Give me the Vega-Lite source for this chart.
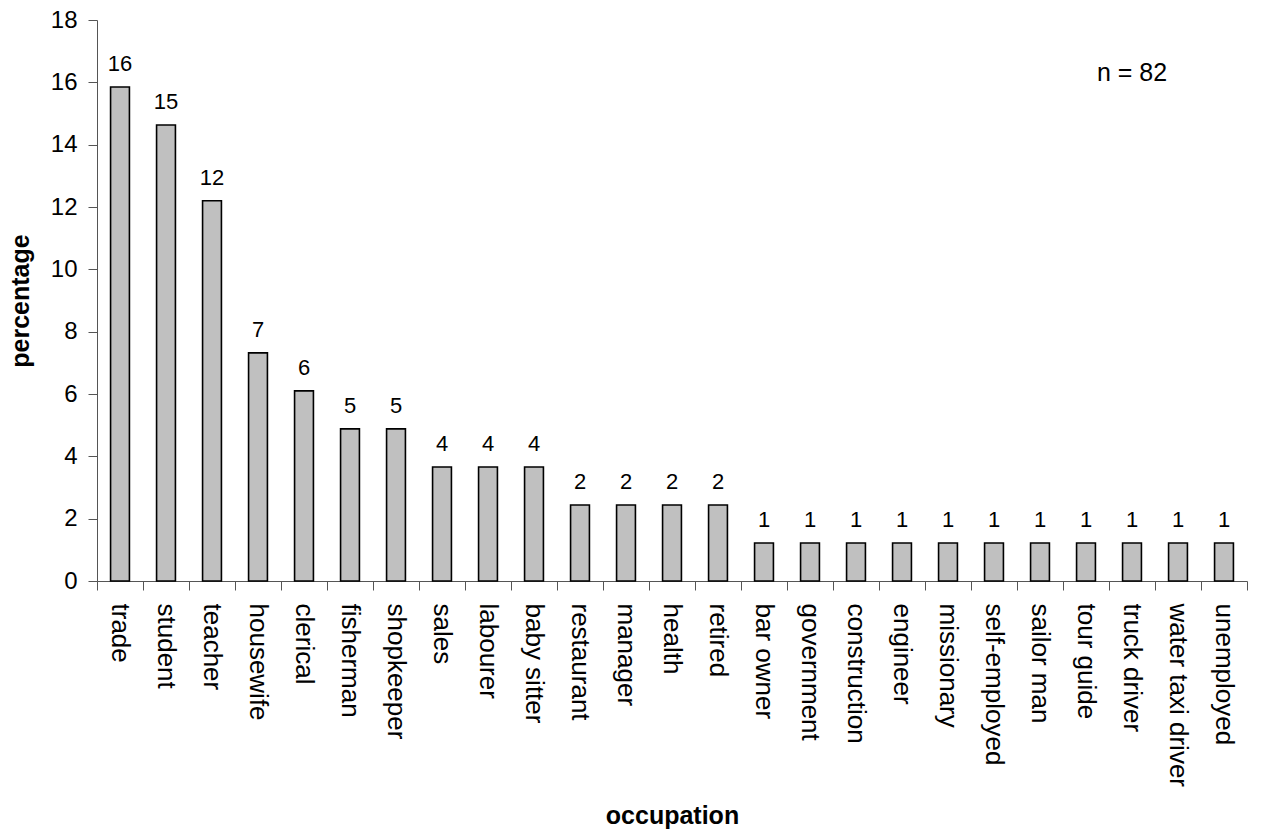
{
  "$schema": "https://vega.github.io/schema/vega-lite/v6.json",
  "width": 1150,
  "height": 561,
  "autosize": {"type": "none"},
  "padding": {"left": 97, "top": 20, "right": 17, "bottom": 258},
  "background": "white",
  "config": {
    "view": {"stroke": null},
    "font": "Liberation Sans",
    "axis": {"labelFont": "Liberation Sans", "titleFont": "Liberation Sans", "labelColor": "black", "titleColor": "black", "domainColor": "#555555", "tickColor": "#555555", "grid": false}
  },
  "data": {
    "values": [
      {"occupation": "trade", "pct": 15.85},
      {"occupation": "student", "pct": 14.63},
      {"occupation": "teacher", "pct": 12.20},
      {"occupation": "housewife", "pct": 7.32},
      {"occupation": "clerical", "pct": 6.10},
      {"occupation": "fisherman", "pct": 4.88},
      {"occupation": "shopkeeper", "pct": 4.88},
      {"occupation": "sales", "pct": 3.66},
      {"occupation": "labourer", "pct": 3.66},
      {"occupation": "baby sitter", "pct": 3.66},
      {"occupation": "restaurant", "pct": 2.44},
      {"occupation": "manager", "pct": 2.44},
      {"occupation": "health", "pct": 2.44},
      {"occupation": "retired", "pct": 2.44},
      {"occupation": "bar owner", "pct": 1.22},
      {"occupation": "government", "pct": 1.22},
      {"occupation": "construction", "pct": 1.22},
      {"occupation": "engineer", "pct": 1.22},
      {"occupation": "missionary", "pct": 1.22},
      {"occupation": "self-employed", "pct": 1.22},
      {"occupation": "sailor man", "pct": 1.22},
      {"occupation": "tour guide", "pct": 1.22},
      {"occupation": "truck driver", "pct": 1.22},
      {"occupation": "water taxi driver", "pct": 1.22},
      {"occupation": "unemployed", "pct": 1.22}
    ]
  },
  "encoding": {
    "x": {
      "field": "occupation", "type": "nominal", "sort": null,
      "scale": {"paddingInner": 0, "paddingOuter": 0},
      "axis": {
        "title": "occupation", "titleFontSize": 25, "titleFontWeight": "bold", "titlePadding": 22,
        "labelAngle": 90, "labelFontSize": 26, "labelPadding": 13, "labelBaseline": "middle", "labelAlign": "left",
        "tickSize": 9, "bandPosition": 1, "tickExtra": true, "labelLimit": 300
      }
    },
    "y": {
      "field": "pct", "type": "quantitative",
      "scale": {"domain": [0, 18], "nice": false},
      "axis": {
        "title": "percentage", "titleFontSize": 25, "titleFontWeight": "bold", "titlePadding": 17,
        "values": [0, 2, 4, 6, 8, 10, 12, 14, 16, 18], "labelFontSize": 24, "labelPadding": 11, "tickSize": 9
      }
    }
  },
  "layer": [
    {
      "mark": {"type": "bar", "fill": "#c0c0c0", "stroke": "black", "strokeWidth": 1.6, "width": {"band": 0.41}}
    },
    {
      "mark": {"type": "text", "fontSize": 22, "baseline": "alphabetic", "dy": -16, "color": "black"},
      "encoding": {"text": {"field": "pct", "type": "quantitative", "format": ".0f"}}
    },
    {
      "data": {"values": [{"occupation": "truck driver", "pct": 16.3, "note": "n = 82"}]},
      "mark": {"type": "text", "fontSize": 25, "baseline": "middle", "color": "black"},
      "encoding": {"text": {"field": "note"}}
    }
  ]
}
